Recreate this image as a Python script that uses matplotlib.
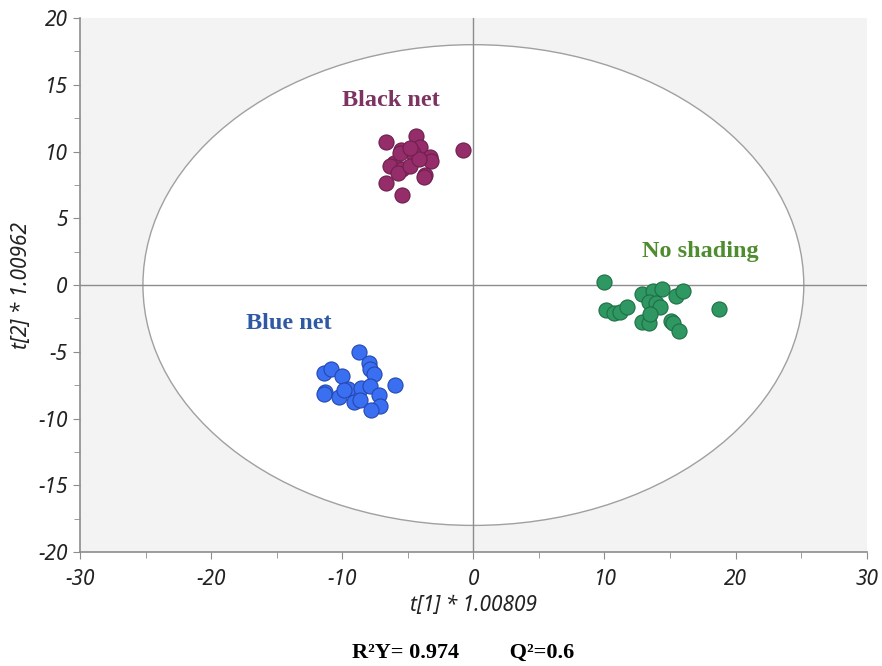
import matplotlib.pyplot as plt
from matplotlib.patches import Ellipse, Rectangle

# score values
black_x = [-6.68, -4.40, -0.76, -5.51, -4.04, -4.60, -3.28, -3.22, -6.07, -6.33,
           -5.46, -5.72, -4.86, -4.14, -3.66, -3.79, -6.68, -5.43, -5.56, -4.80]
black_y = [10.73, 11.18, 10.13, 10.11, 10.36, 9.91, 9.61, 9.31, 9.16, 8.91,
           8.67, 8.37, 8.91, 9.42, 8.24, 8.11, 7.66, 6.74, 9.87, 10.26]

blue_x = [-8.74, -11.41, -10.85, -10.01, -7.93, -7.90, -7.55, -5.95, -11.28, -11.36,
          -10.27, -9.58, -8.54, -7.85, -9.12, -8.67, -7.16, -7.14, -7.77, -9.88]
blue_y = [-5.04, -6.62, -6.32, -6.82, -5.87, -6.32, -6.67, -7.49, -7.99, -8.16,
          -8.36, -7.81, -7.69, -7.57, -8.74, -8.61, -8.24, -9.06, -9.36, -7.87]

green_x = [9.93, 10.14, 10.69, 11.15, 11.71, 12.86, 13.69, 14.35, 13.36, 13.95,
           14.25, 15.45, 15.98, 12.86, 13.36, 13.44, 15.09, 15.22, 15.65, 18.70]
green_y = [0.20, -1.87, -2.07, -2.00, -1.62, -0.70, -0.42, -0.32, -1.25, -1.32,
           -1.62, -0.82, -0.42, -2.75, -2.87, -2.17, -2.67, -2.87, -3.45, -1.80]

ellipse_w, ellipse_h = 50.4, 36.0

fig = plt.figure(figsize=(8.82, 6.66), dpi=100)
ax = fig.add_axes([0.0907, 0.171, 0.892, 0.802])
ax.set_xlim(-30, 30)
ax.set_ylim(-20, 20)

# grey background, white inside the ellipse
ax.add_patch(Rectangle((-30, -20), 60, 40, facecolor='#f3f3f3', edgecolor='none', zorder=0))
ax.add_patch(Ellipse((0, 0), ellipse_w, ellipse_h, facecolor='white',
                     edgecolor='#a0a0a0', linewidth=1.0, zorder=1))
ax.axhline(0, color='#8c8c8c', linewidth=1.0, zorder=2)
ax.axvline(0, color='#8c8c8c', linewidth=1.0, zorder=2)

ms = 118
ax.scatter(black_x, black_y, s=ms, color='#952d6a', edgecolor='#6e1f4e', linewidth=0.8, zorder=3)
ax.scatter(blue_x, blue_y, s=ms, color='#3a6ff2', edgecolor='#2448b0', linewidth=0.8, zorder=3)
ax.scatter(green_x, green_y, s=ms, color='#2f9862', edgecolor='#1f6e45', linewidth=0.8, zorder=3)

serif = 'Liberation Serif'
ax.text(-6.3, 13.8, 'Black net', color='#7d3361', fontsize=17.5, fontweight='bold',
        family=serif, ha='center', va='center')
ax.text(17.3, 2.5, 'No shading', color='#4f8c30', fontsize=17.5, fontweight='bold',
        family=serif, ha='center', va='center')
ax.text(-14.1, -2.85, 'Blue net', color='#2f5aa3', fontsize=17.5, fontweight='bold',
        family=serif, ha='center', va='center')

for s in ['top', 'right']:
    ax.spines[s].set_visible(False)
for s in ['left', 'bottom']:
    ax.spines[s].set_color('#8c8c8c')
    ax.spines[s].set_linewidth(1.2)

ax.set_xticks(range(-30, 31, 10))
ax.set_xticks(range(-25, 30, 10), minor=True)
ax.set_yticks(range(-20, 21, 5))
ax.set_yticks([v / 2 for v in range(-35, 40, 10)], minor=True)
ax.tick_params(which='both', direction='out', color='#8c8c8c', labelsize=15)
ax.tick_params(axis='x', which='major', length=5, pad=7)
ax.tick_params(axis='y', which='major', length=5, pad=4)
ax.tick_params(which='minor', length=4)
for lab in ax.get_xticklabels() + ax.get_yticklabels():
    lab.set_fontstyle('italic')
    lab.set_family('Noto Sans')
    lab.set_color('#222222')

ax.set_xlabel('t[1] * 1.00809', fontsize=15, fontstyle='italic', family='Noto Sans',
              color='#222222', labelpad=4)
ax.set_ylabel('t[2] * 1.00962', fontsize=15, fontstyle='italic', family='Noto Sans',
              color='#222222', labelpad=4)

fig.text(0.525, 0.0195, 'R²Y= 0.974         Q²=0.6', fontsize=16, fontweight='bold',
         family=serif, ha='center', va='center')

fig.savefig('out.png', dpi=100)
